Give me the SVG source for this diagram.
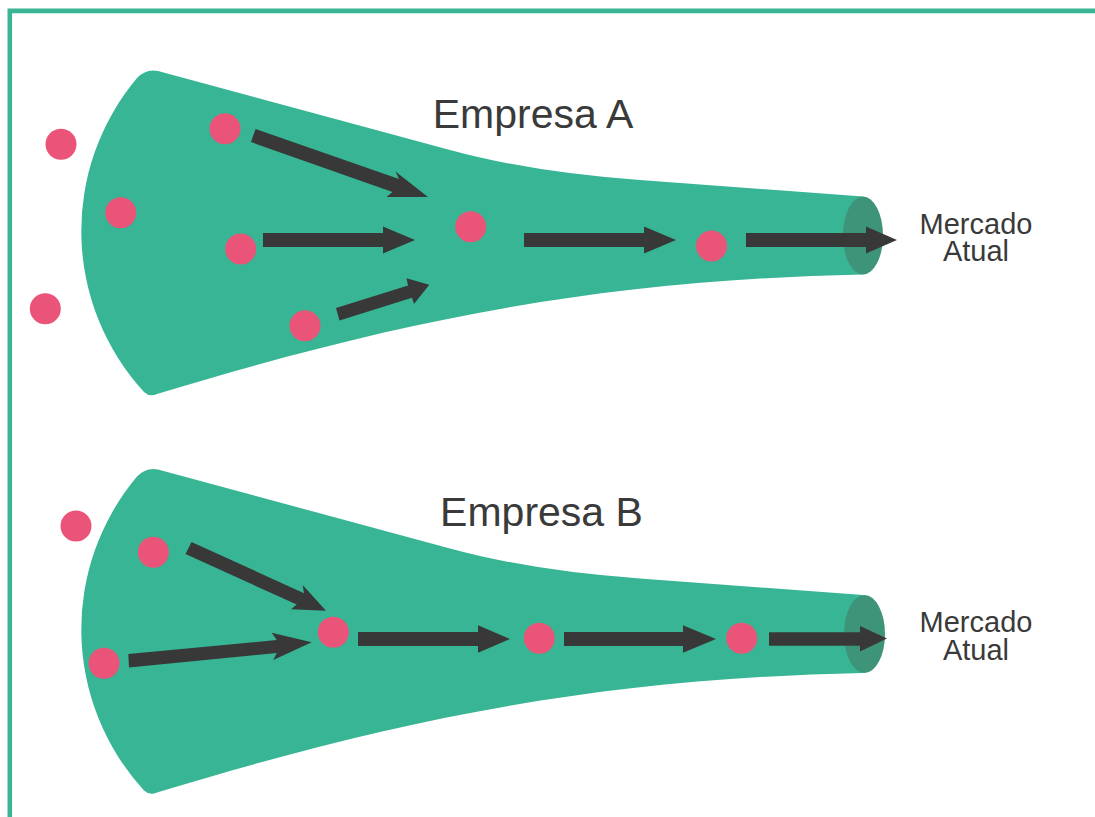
<svg xmlns="http://www.w3.org/2000/svg" xmlns:xlink="http://www.w3.org/1999/xlink" width="1095" height="817" viewBox="0 0 1095 817">
<style>
.body{fill:#38b595}
.cap{fill:#3e9479}
.dot{fill:#ea5479}
.arr{fill:#383838}
.title{font-family:"Liberation Sans",Arial,sans-serif;font-size:41px;fill:#3a3a3a;text-anchor:middle}
.lbl{font-family:"Liberation Sans",Arial,sans-serif;font-size:29px;fill:#3a3a3a;text-anchor:middle}
</style>
<defs>
<path id="funnelShape" d="M158,71 L450,150 Q532.7,172.5 640,180 L863,196.5 L863,274.5 C600,280 400,320 157,394 Q150,397.5 144,392 A238,238 0 0 1 137,78 Q146,68.5 158,71 Z"/>
</defs>
<rect width="1095" height="817" fill="#ffffff"/>
<path d="M9.8,830 V10.9 H1110" fill="none" stroke="#3bb595" stroke-width="4.6"/>

<g id="funnel-a">
<use xlink:href="#funnelShape" class="body"/>
<ellipse class="cap" cx="863" cy="235.5" rx="20" ry="39"/>
<text class="title" x="533" y="128">Empresa A</text>
</g>
<g id="funnel-b">
<use xlink:href="#funnelShape" class="body" transform="translate(0,398.5)"/>
<ellipse class="cap" cx="864.5" cy="634" rx="20.5" ry="39"/>
<text class="title" x="541.5" y="526">Empresa B</text>
</g>

<g id="mercado-a"><text class="lbl" x="976" y="234">Mercado</text><text class="lbl" x="976" y="261">Atual</text></g>
<g id="mercado-b"><text class="lbl" x="976" y="632">Mercado</text><text class="lbl" x="976" y="659.5">Atual</text></g>

<g id="dot-a1"><circle class="dot" cx="61" cy="144.3" r="15.5"/></g>
<g id="dot-a2"><circle class="dot" cx="120.7" cy="212.7" r="15.5"/></g>
<g id="dot-a3"><circle class="dot" cx="45.3" cy="308.7" r="15.5"/></g>
<g id="dot-a4"><circle class="dot" cx="225" cy="128.7" r="15.5"/></g>
<g id="dot-a5"><circle class="dot" cx="240.7" cy="249" r="15.5"/></g>
<g id="dot-a6"><circle class="dot" cx="305" cy="325.7" r="15.5"/></g>
<g id="dot-a7"><circle class="dot" cx="470.7" cy="226.7" r="15.5"/></g>
<g id="dot-a8"><circle class="dot" cx="711.5" cy="246" r="15.5"/></g>

<g id="dot-b1"><circle class="dot" cx="76" cy="526" r="15.5"/></g>
<g id="dot-b2"><circle class="dot" cx="153.3" cy="552.3" r="15.5"/></g>
<g id="dot-b3"><circle class="dot" cx="104" cy="663.3" r="15.5"/></g>
<g id="dot-b4"><circle class="dot" cx="333.3" cy="632.3" r="15.5"/></g>
<g id="dot-b5"><circle class="dot" cx="539.3" cy="638.3" r="15.5"/></g>
<g id="dot-b6"><circle class="dot" cx="741.7" cy="638.3" r="15.5"/></g>

<g id="connectors">
<polygon class="arr" points="255.6,128.9 399,179 395.5,171.5 428,197 386.5,197 392.5,191.9 251,142.1"/>
<polygon class="arr" points="263,233 383,233 383,226.5 415,240 383,253.5 383,247 263,247"/>
<polygon class="arr" points="336,308 408,285.4 406.5,278.3 429.3,284.7 414,304 412,297.7 339.5,320.5"/>
<polygon class="arr" points="524,233 644,233 644,226.5 676,240 644,253.5 644,247 524,247"/>
<polygon class="arr" points="746,233 866,233 866,226.5 897,240 866,253.5 866,247 746,247"/>
<polygon class="arr" points="191.5,542 304,593.2 302.7,585 326,610.7 291,609.3 296.7,604.6 185.5,554"/>
<polygon class="arr" points="128.3,654 276.7,640 271.7,632.7 311.7,642.3 273.3,660 276.7,653 129,667.5"/>
<polygon class="arr" points="358,632 478,632 478,625.3 510,639 478,652.7 478,646 358,646"/>
<polygon class="arr" points="564,632 683,632 683,625.3 716,639 683,652.7 683,646 564,646"/>
<polygon class="arr" points="769,632.3 860,632.3 860,626 887,638.5 860,651.5 860,645.7 769,645.7"/>
</g>
</svg>
